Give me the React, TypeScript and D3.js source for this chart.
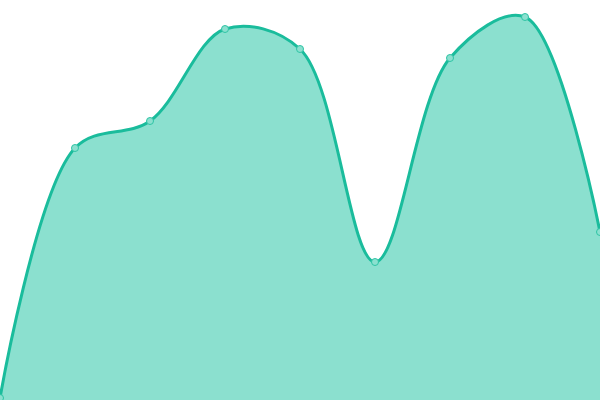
import { useEffect, useRef } from 'react'
import * as d3 from 'd3'

const xIndex = [0, 1, 2, 3, 4, 5, 6, 7, 8]
const values = [2, 252, 279, 371, 351, 138, 342, 383, 168]

const WIDTH = 600
const HEIGHT = 400

export default function App() {
  const svgRef = useRef<SVGSVGElement>(null)

  useEffect(() => {
    if (!svgRef.current) return
    const svg = d3.select(svgRef.current)
    svg.selectAll('*').remove()

    const data = xIndex.map((i, k) => ({ i, v: values[k] }))

    const x = d3.scaleLinear().domain([0, xIndex.length - 1]).range([0, WIDTH])
    const y = d3.scaleLinear().domain([0, 400]).range([HEIGHT, 0])

    const area = d3
      .area<{ i: number; v: number }>()
      .x(d => x(d.i))
      .y0(HEIGHT)
      .y1(d => y(d.v))
      .curve(d3.curveCatmullRom)

    const line = d3
      .line<{ i: number; v: number }>()
      .x(d => x(d.i))
      .y(d => y(d.v))
      .curve(d3.curveCatmullRom)

    svg.append('path')
      .datum(data)
      .attr('fill', '#8be0cf')
      .attr('d', area)

    svg.append('path')
      .datum(data)
      .attr('fill', 'none')
      .attr('stroke', '#1abc9c')
      .attr('stroke-width', 3)
      .attr('d', line)

    svg.append('g')
      .selectAll('circle')
      .data(data)
      .join('circle')
      .attr('cx', d => x(d.i))
      .attr('cy', d => y(d.v))
      .attr('r', 3.5)
      .attr('fill', '#8be0cf')
      .attr('stroke', '#2ec4a5')
      .attr('stroke-width', 1)
  }, [])

  return (
    <svg
      ref={svgRef}
      width={WIDTH}
      height={HEIGHT}
      style={{ position: 'absolute', left: 0, top: 0, display: 'block' }}
    />
  )
}
